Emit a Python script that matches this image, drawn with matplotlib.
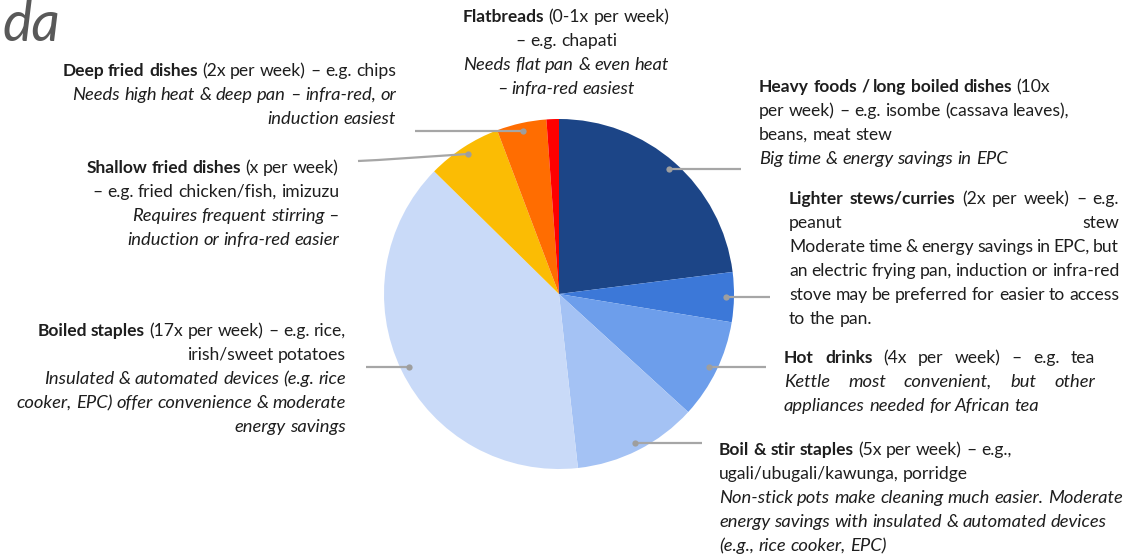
import matplotlib
matplotlib.use('Agg')
import matplotlib.pyplot as plt
import numpy as np

W, H = 1127, 557

# weekly cooking frequency per dish group (clockwise from 12 o'clock)
categories = ['Heavy foods / long boiled dishes', 'Lighter stews/curries', 'Hot drinks',
              'Boil & stir staples', 'Boiled staples', 'Shallow fried dishes',
              'Deep fried dishes', 'Flatbreads']
per_week = [10, 2, 4, 5, 17, 3, 2, 0.5]
colors = ['#1c4587', '#3c78d8', '#6d9eeb', '#a4c2f4', '#c9daf8', '#fbbc04', '#ff6d01', '#ff0000']

# label text: list of lines, each line a list of (text, style)  b=bold n=normal i=italic
notes = [
    [[('Heavy foods / long boiled dishes', 'b'), ('(10x', 'n')],
     [('per week) – e.g. isombe (cassava leaves),', 'n')],
     [('beans, meat stew', 'n')],
     [('Big time & energy savings in EPC', 'i')]],
    [[('Lighter stews/curries', 'b'), ('(2x per week) – e.g.', 'n')],
     [('peanut stew', 'n')],
     [('Moderate time & energy savings in EPC, but', 'n')],
     [('an electric frying pan, induction or infra-red', 'n')],
     [('stove may be preferred for easier to access', 'n')],
     [('to the pan.', 'n')]],
    [[('Hot drinks', 'b'), ('(4x per week) – e.g. tea', 'n')],
     [('Kettle most convenient, but other', 'i')],
     [('appliances needed for African tea', 'i')]],
    [[('Boil & stir staples', 'b'), ('(5x per week) – e.g.,', 'n')],
     [('ugali/ubugali/kawunga, porridge', 'n')],
     [('Non-stick pots make cleaning much easier. Moderate', 'i')],
     [('energy savings with insulated & automated devices', 'i')],
     [('(e.g., rice cooker, EPC)', 'i')]],
    [[('Boiled staples', 'b'), ('(17x per week) – e.g. rice,', 'n')],
     [('irish/sweet potatoes', 'n')],
     [('Insulated & automated devices (e.g. rice', 'i')],
     [('cooker, EPC) offer convenience & moderate', 'i')],
     [('energy savings', 'i')]],
    [[('Shallow fried dishes', 'b'), ('(x per week)', 'n')],
     [('– e.g. fried chicken/fish, imizuzu', 'n')],
     [('Requires frequent stirring –', 'i')],
     [('induction or infra-red easier', 'i')]],
    [[('Deep fried dishes', 'b'), ('(2x per week) – e.g. chips', 'n')],
     [('Needs high heat & deep pan – infra-red, or', 'i')],
     [('induction easiest', 'i')]],
    [[('Flatbreads', 'b'), ('(0-1x per week)', 'n')],
     [('– e.g. chapati', 'n')],
     [('Needs flat pan & even heat', 'i')],
     [('– infra-red easiest', 'i')]],
]

# placement of each label block: anchor x, first line centre y, alignment, justify width
layout = [
    dict(x=759, y=87, align='left'),
    dict(x=789, y=199, align='justify', right=1119),
    dict(x=784, y=358, align='justify', right=1095),
    dict(x=719, y=450, align='left'),
    dict(x=346, y=331, align='right'),
    dict(x=339, y=168, align='right'),
    dict(x=396, y=71, align='right'),
    dict(x=566, y=17, align='center'),
]
# leader line end (pixel x) for each slice, None = no leader
leader_end = [741, 770, 766, 702, 366, 358, 415, None]

FONT = 'Lato'
LINE = 24
TXT = '#1e1e1e'
STY = {'b': dict(weight='bold', style='normal', fontsize=12.5),
       'n': dict(weight='normal', style='normal', fontsize=12.6),
       'i': dict(weight='normal', style='italic', fontsize=13.2)}

fig = plt.figure(figsize=(W / 100, H / 100), dpi=100)
ax = fig.add_axes([0, 0, 1, 1])

cx, cy, R = 559, H - 294, 175
wedges, _ = ax.pie(per_week, colors=colors, startangle=90, counterclock=False,
                   center=(cx, cy), radius=R, wedgeprops=dict(linewidth=0))
ax.set_xlim(0, W)
ax.set_ylim(0, H)
ax.set_aspect('equal')
ax.axis('off')

# leader lines with a dot at the slice mid angle
for w, xe in zip(wedges, leader_end):
    if xe is None:
        continue
    a = np.deg2rad((w.theta1 + w.theta2) / 2)
    px, py = cx + 0.955 * R * np.cos(a), cy + 0.955 * R * np.sin(a)
    if xe == 358:
        xs, ys = [px, 378, xe], [py, H - 160, H - 161]
    else:
        xs, ys = [px, xe], [py, py]
    ax.plot(xs, ys, color='#a6a6a6', lw=1.6, solid_capstyle='butt', zorder=3)
    ax.plot(px, py, 'o', ms=4.5, color='#9e9e9e', mec='none', zorder=4)

renderer = fig.canvas.get_renderer()


def word_width(t):
    return t.get_window_extent(renderer).width


def space_width(sty):
    a = ax.text(0, 0, 'x x', family=FONT, **STY[sty])
    b = ax.text(0, 0, 'xx', family=FONT, **STY[sty])
    s = word_width(a) - word_width(b)
    a.remove()
    b.remove()
    return s


SPACE = {k: space_width(k) for k in STY}


def draw_line(segs, base_y, cfg, last):
    words = []
    for text, sty in segs:
        for w in text.split(' '):
            t = ax.text(0, H - base_y, w, family=FONT, color=TXT,
                        va='baseline', ha='left', **STY[sty])
            words.append((t, word_width(t), sty))
    widths = [w for _, w, _ in words]
    gaps = [SPACE[s] for _, _, s in words[1:]]
    total = sum(widths) + sum(gaps)
    x0 = cfg['x']
    if cfg['align'] == 'right':
        x0 = cfg['x'] - total
    elif cfg['align'] == 'center':
        x0 = cfg['x'] - total / 2
    elif cfg['align'] == 'justify' and not last and len(words) > 1:
        g = (cfg['right'] - cfg['x'] - sum(widths)) / (len(words) - 1)
        gaps = [g] * (len(words) - 1)
    xx = x0
    for i, (t, w, _) in enumerate(words):
        t.set_x(xx)
        xx += w + (gaps[i] if i < len(gaps) else 0)


for lines, cfg in zip(notes, layout):
    for k, segs in enumerate(lines):
        draw_line(segs, cfg['y'] + k * LINE + 5, cfg, k == len(lines) - 1)

# slide title fragment in the top left corner
ax.text(2, H - 41, 'da', fontsize=40, family=FONT, style='italic', color='#595959',
        va='baseline', ha='left')

fig.savefig('out.png', dpi=100)
